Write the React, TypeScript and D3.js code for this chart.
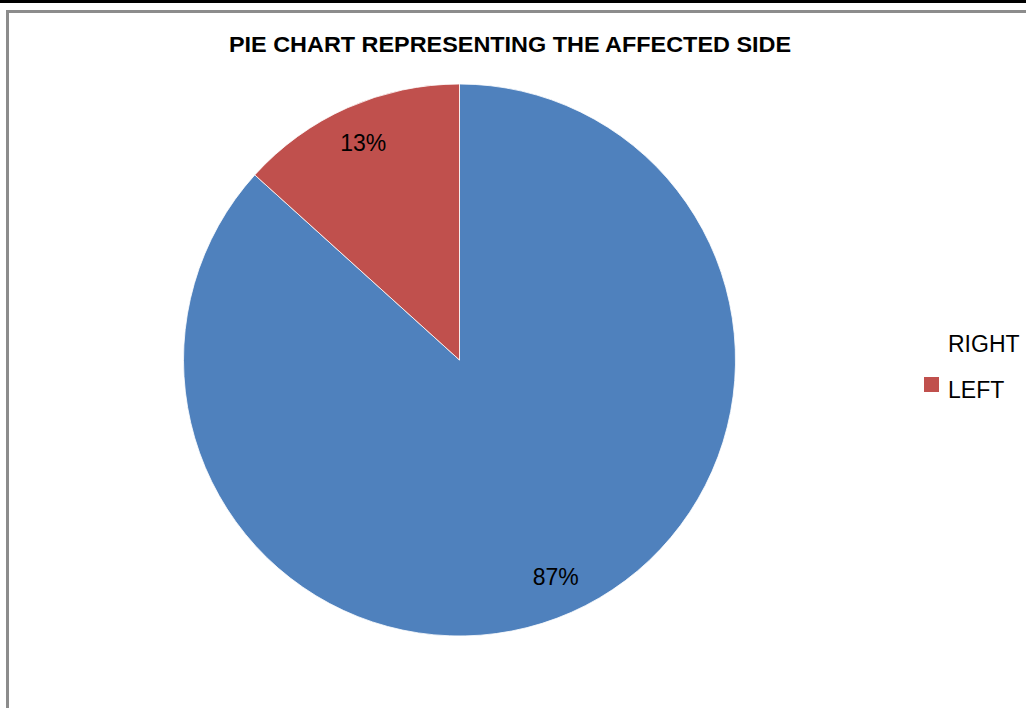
import React, { useEffect, useRef } from "react";
import * as d3 from "d3";

const categories = ["RIGHT", "LEFT"];
const values = [86.7, 13.3];
const colors = ["#4F81BD", "#C0504D"];
const title = "PIE CHART REPRESENTING THE AFFECTED SIDE";

const App: React.FC = () => {
  const svgRef = useRef<SVGSVGElement>(null);

  useEffect(() => {
    if (!svgRef.current) return;
    const width = 1026;
    const height = 708;
    const svg = d3.select(svgRef.current);
    svg.selectAll("*").remove();
    svg.attr("width", width).attr("height", height);

    const font = "'Liberation Sans', Arial, sans-serif";

    svg.append("rect").attr("width", width).attr("height", height).attr("fill", "#fff");
    // top black rule
    svg.append("rect").attr("x", 0).attr("y", 0).attr("width", width).attr("height", 3).attr("fill", "#000");
    // gray chart frame (top + left visible)
    svg
      .append("path")
      .attr("d", `M7.5,${height + 5} V11.5 H${width + 5}`)
      .attr("fill", "none")
      .attr("stroke", "#8c8c8c")
      .attr("stroke-width", 3);

    svg
      .append("text")
      .attr("x", 510)
      .attr("y", 52)
      .attr("text-anchor", "middle")
      .attr("font-family", font)
      .attr("font-weight", "bold")
      .attr("font-size", 22)
      .attr("textLength", 562)
      .attr("lengthAdjust", "spacingAndGlyphs")
      .text(title);

    const cx = 459.5;
    const cy = 360;
    const r = 276;

    const data = categories.map((c, i) => ({ name: c, value: values[i], color: colors[i] }));
    type D = (typeof data)[number];
    const pie = d3.pie<D>().value((d) => d.value).sort(null);
    const arc = d3.arc<d3.PieArcDatum<D>>().innerRadius(0).outerRadius(r);

    const g = svg.append("g").attr("transform", `translate(${cx},${cy})`);
    const arcs = pie(data);
    g.selectAll("path")
      .data(arcs)
      .join("path")
      .attr("d", arc)
      .attr("fill", (d) => d.data.color)
      .attr("stroke", "#fff")
      .attr("stroke-width", 0.8);

    const labelR = r * 0.86;
    g.selectAll("text.lbl")
      .data(arcs)
      .join("text")
      .attr("class", "lbl")
      .attr("x", (d) => Math.sin((d.startAngle + d.endAngle) / 2) * labelR)
      .attr("y", (d) => -Math.cos((d.startAngle + d.endAngle) / 2) * labelR + 8)
      .attr("text-anchor", "middle")
      .attr("font-family", font)
      .attr("font-size", 23)
      .attr("fill", "#000")
      .text((d) => `${Math.round(d.data.value)}%`);

    // legend (RIGHT swatch missing in the original)
    const legend = svg.append("g");
    data.forEach((d, i) => {
      const y = 352 + i * 46;
      if (d.name !== "RIGHT") {
        legend
          .append("rect")
          .attr("x", 924)
          .attr("y", y - 21)
          .attr("width", 15)
          .attr("height", 15)
          .attr("fill", d.color);
      }
      legend
        .append("text")
        .attr("x", 948)
        .attr("y", y)
        .attr("font-family", font)
        .attr("font-size", 23)
        .attr("fill", "#000")
        .text(d.name);
    });
  }, []);

  return (
    <svg
      ref={svgRef}
      style={{ position: "fixed", left: 0, top: 0, display: "block" }}
    ></svg>
  );
};

export default App;
